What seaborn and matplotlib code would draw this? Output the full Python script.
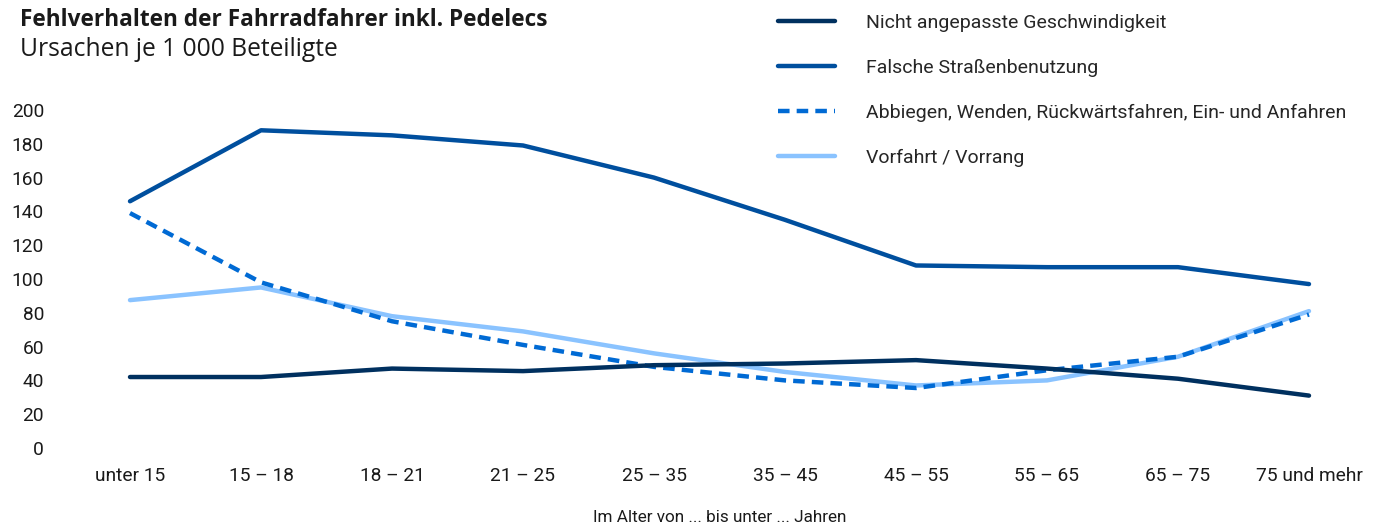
import pandas as pd
import matplotlib.pyplot as plt
import seaborn as sns

sns.set_theme(style='white')
plt.rcParams['font.family'] = ['Roboto', 'DejaVu Sans']
title_font = ['Open Sans', 'DejaVu Sans']

# Data
age_groups = ['unter 15', '15 – 18', '18 – 21', '21 – 25', '25 – 35',
              '35 – 45', '45 – 55', '55 – 65', '65 – 75', '75 und mehr']
geschwindigkeit = [42, 42, 47, 45.5, 49, 50, 52, 47, 41, 31]
strassenbenutzung = [146, 188, 185, 179, 160, 135, 108, 107, 107, 97]
abbiegen = [139, 98, 75, 61, 48, 40, 35.5, 46, 54, 79]
vorfahrt = [87.5, 95, 78, 69, 56, 45, 37, 40, 54, 81]

series_names = ['Nicht angepasste Geschwindigkeit',
                'Falsche Straßenbenutzung',
                'Abbiegen, Wenden, Rückwärtsfahren, Ein- und Anfahren',
                'Vorfahrt / Vorrang']
series_values = [geschwindigkeit, strassenbenutzung, abbiegen, vorfahrt]
colors = ['#00305f', '#004f9e', '#006ad4', '#8ac3ff']
dashed = [False, False, True, False]

fig = plt.figure(figsize=(13.82, 5.26), dpi=100)
ax = fig.add_axes([130 / 1382, 78 / 526, 1179 / 1382, 338 / 526])

x = list(range(len(age_groups)))
# light lines first, dark lines on top
order = [3, 2, 0, 1]
for i in order:
    df = pd.DataFrame({'x': x, 'y': series_values[i]})
    sns.lineplot(data=df, x='x', y='y', ax=ax, color=colors[i], linewidth=3.2,
                 clip_on=False, label=series_names[i])
    if dashed[i]:
        ax.lines[-1].set_dashes((2.6, 1.6))

ax.set_xlim(0, 9)
ax.set_ylim(0, 200)
ax.set_yticks(range(0, 201, 20))
ax.set_yticklabels([str(v) for v in range(0, 201, 20)], fontsize=13.8,
                   color='#1a1a1a')
ax.set_xticks(x)
ax.set_xticklabels(age_groups, fontsize=13.8, color='#1a1a1a')
ax.tick_params(axis='y', length=0, pad=62)
ax.tick_params(axis='x', length=0, pad=14)
for s in ax.spines.values():
    s.set_visible(False)
ax.set_xlabel('')
ax.set_ylabel('')

# legend in original order
handles, labels = ax.get_legend_handles_labels()
lookup = dict(zip(labels, handles))
fig.legend([lookup[n] for n in series_names], series_names,
           loc='upper left', bbox_to_anchor=(778 / 1382, 1 - 14 / 526),
           frameon=False, borderpad=0, borderaxespad=0,
           handlelength=2.95, handletextpad=1.55,
           labelspacing=1.38, prop={'size': 14})
ax.get_legend().remove()

fig.text(20 / 1382, 1 - 20 / 526, 'Fehlverhalten der Fahrradfahrer inkl. Pedelecs',
         fontsize=16.3, fontweight='bold', va='center', ha='left',
         color='#1a1a1a', family=title_font)
fig.text(20 / 1382, 1 - 50 / 526, 'Ursachen je 1 000 Beteiligte',
         fontsize=17.7, va='center', ha='left', color='#1a1a1a',
         family=title_font)
fig.text(720 / 1382, 1 - 518 / 526, 'Im Alter von ... bis unter ... Jahren',
         fontsize=12.3, va='center', ha='center', color='#1a1a1a')

fig.savefig('out.png', dpi=100)
